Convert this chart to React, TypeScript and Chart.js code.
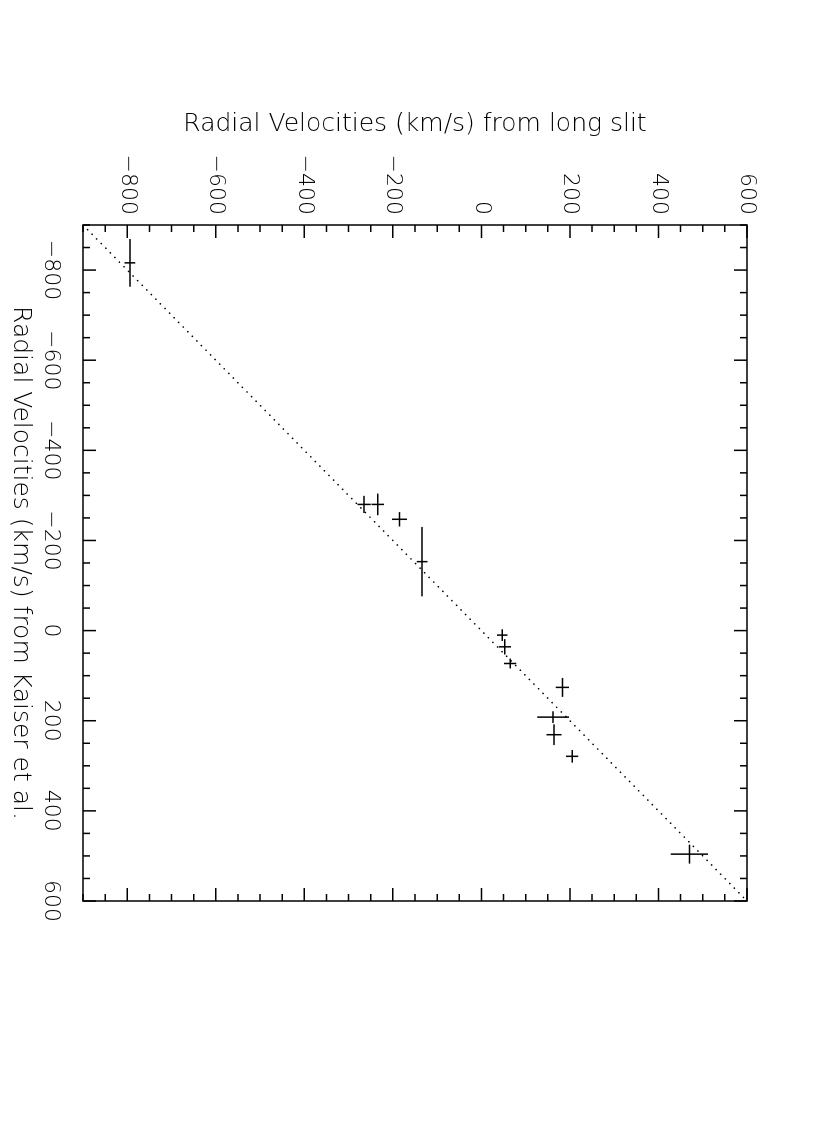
import React, { useEffect, useRef } from 'react';
import { Chart, registerables } from 'chart.js';

Chart.register(...registerables);

// Data: Kaiser et al. velocity (x) vs long slit velocity (y), with errors
const kaiser = [-816, -280, -280, -247, -153, 10, 36, 73, 126, 192, 231, 279, 496];
const kaiserErr = [53, 19, 24, 16, 77, 13, 17, 11, 21, 13, 23, 14, 21];
const longSlit = [-794, -265, -234, -185, -134, 47, 53, 65, 183, 162, 164, 205, 470];
const longSlitErr = [12, 15, 14, 17, 12, 12, 14, 14, 15, 36, 17, 14, 42];

const axisMin = -900;
const axisMax = 600;
const majorTicks = [-800, -600, -400, -200, 0, 200, 400, 600];
const minorStep = 50;
const majorStep = 200;

const xTitle = 'Radial Velocities (km/s) from Kaiser et al.';
const yTitle = 'Radial Velocities (km/s) from long slit';

const FONT = '"DejaVu Sans", "Liberation Sans", sans-serif';

const fmt = (v: number) => (v < 0 ? '\u2212' + Math.abs(v) : String(v));

const framePlugin = {
  id: 'frameAndErrors',
  afterDatasetsDraw(chart: any) {
    const { ctx, chartArea: a, scales } = chart;
    const x = scales.x;
    const y = scales.y;
    ctx.save();
    ctx.strokeStyle = '#000';
    ctx.lineWidth = 1.5;
    ctx.lineCap = 'butt';
    // error bars (crosses)
    ctx.beginPath();
    for (let i = 0; i < kaiser.length; i++) {
      const px = x.getPixelForValue(kaiser[i]);
      const py = y.getPixelForValue(longSlit[i]);
      ctx.moveTo(x.getPixelForValue(kaiser[i] - kaiserErr[i]), py);
      ctx.lineTo(x.getPixelForValue(kaiser[i] + kaiserErr[i]), py);
      ctx.moveTo(px, y.getPixelForValue(longSlit[i] - longSlitErr[i]));
      ctx.lineTo(px, y.getPixelForValue(longSlit[i] + longSlitErr[i]));
    }
    ctx.stroke();
    // box
    ctx.strokeRect(a.left, a.top, a.right - a.left, a.bottom - a.top);
    // inward ticks on all sides
    ctx.beginPath();
    for (let v = axisMin; v <= axisMax; v += minorStep) {
      const len = v % majorStep === 0 ? 13 : 7;
      const px = x.getPixelForValue(v);
      const py = y.getPixelForValue(v);
      ctx.moveTo(px, a.bottom);
      ctx.lineTo(px, a.bottom - len);
      ctx.moveTo(px, a.top);
      ctx.lineTo(px, a.top + len);
      ctx.moveTo(a.left, py);
      ctx.lineTo(a.left + len, py);
      ctx.moveTo(a.right, py);
      ctx.lineTo(a.right - len, py);
    }
    ctx.stroke();
    ctx.restore();
  },
};

export default function App() {
  const ref = useRef<HTMLCanvasElement | null>(null);

  useEffect(() => {
    document.body.style.overflow = 'hidden';
    const canvas = ref.current;
    if (!canvas) return;
    const tickFont = { family: FONT, size: 22, weight: '200' as any };
    const titleFont = { family: FONT, size: 25, weight: '200' as any };
    const chart = new Chart(canvas, {
      type: 'scatter',
      data: {
        datasets: [
          {
            type: 'line' as any,
            data: [
              { x: axisMin, y: axisMin },
              { x: axisMax, y: axisMax },
            ],
            borderColor: '#000',
            borderWidth: 1.6,
            borderDash: [0.1, 6.4],
            borderCapStyle: 'round',
            pointRadius: 0,
            fill: false,
          } as any,
          {
            data: kaiser.map((k, i) => ({ x: k, y: longSlit[i] })),
            pointRadius: 0,
            showLine: false,
          },
        ],
      },
      options: {
        responsive: false,
        animation: false,
        devicePixelRatio: 1,
        layout: { padding: { top: 83, right: 226, bottom: 0, left: 0 } },
        plugins: { legend: { display: false }, tooltip: { enabled: false } },
        scales: {
          x: {
            type: 'linear',
            position: 'bottom',
            min: axisMin,
            max: axisMax,
            afterBuildTicks: (s: any) => {
              s.ticks = majorTicks.map((v) => ({ value: v }));
            },
            afterFit: (s: any) => {
              s.height = 83;
            },
            grid: { display: false, drawTicks: false },
            border: { display: false },
            ticks: {
              padding: 19,
              color: '#000',
              font: tickFont,
              autoSkip: false,
              maxRotation: 0,
              minRotation: 0,
              callback: (v: any) => fmt(Number(v)),
            },
            title: {
              display: true,
              text: xTitle,
              color: '#000',
              font: titleFont,
              padding: { top: 0, bottom: 6 },
            },
          },
          y: {
            type: 'linear',
            position: 'left',
            min: axisMin,
            max: axisMax,
            afterBuildTicks: (s: any) => {
              s.ticks = majorTicks.map((v) => ({ value: v }));
            },
            afterFit: (s: any) => {
              s.width = 225;
            },
            grid: { display: false, drawTicks: false },
            border: { display: false },
            ticks: {
              padding: 10,
              color: '#000',
              font: tickFont,
              autoSkip: false,
              callback: (v: any) => fmt(Number(v)),
            },
            title: {
              display: true,
              text: yTitle,
              color: '#000',
              font: titleFont,
              padding: { top: 109, bottom: 0 },
            },
          },
        },
      },
      plugins: [framePlugin],
    });
    return () => chart.destroy();
  }, []);

  return (
    <div
      style={{
        position: 'absolute',
        left: 0,
        top: 0,
        width: 1127,
        height: 830,
        transformOrigin: '0 0',
        transform: 'translate(830px, 0) rotate(90deg)',
        background: '#fff',
      }}
    >
      <canvas ref={ref} width={1127} height={830} style={{ display: 'block' }} />
    </div>
  );
}
